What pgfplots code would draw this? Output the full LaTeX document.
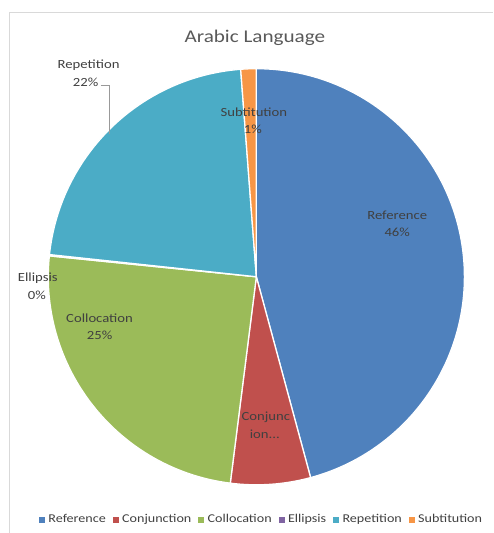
\documentclass[border=0pt]{standalone}
\usepackage{pgfplots}
\pgfplotsset{compat=1.18}
\usepackage{pgfplotstable}
\usepackage{fontspec}
\setmainfont{Carlito}[FakeStretch=1.18]
\definecolor{cRef}{HTML}{4F81BD}
\definecolor{cCon}{HTML}{C0504D}
\definecolor{cCol}{HTML}{9BBB59}
\definecolor{cEll}{HTML}{8064A2}
\definecolor{cRep}{HTML}{4BACC6}
\definecolor{cSub}{HTML}{F79646}
\definecolor{textgray}{HTML}{404040}
\definecolor{titlegray}{HTML}{595959}
\definecolor{framegray}{HTML}{D9D9D9}
\pgfplotstableread{
name value col
Reference 45.8 cRef
Conjunction 6.2 cCon
Collocation 24.6 cCol
Ellipsis 0.1 cEll
Repetition 22.1 cRep
Subtitution 1.2 cSub
}\piedata
\pgfplotsset{
  sqlegend/.style={legend image code/.code={\fill[##1] (0pt,-2.5pt) rectangle (5pt,2.5pt);}}
}
\begin{document}
\begin{tikzpicture}
\begin{axis}[width=493pt,height=533pt,scale only axis,
  xmin=0,xmax=493,ymin=0,ymax=533,hide axis,clip=false,
  sqlegend,
  legend columns=6,
  legend style={at={(0.533,0.021)},anchor=center,draw=none,fill=none,
    font=\fontsize{12}{13}\selectfont, text=textgray,
    /tikz/every odd column/.append style={column sep=2pt},
    /tikz/every even column/.append style={column sep=5pt}},
  legend cell align=left]
\addlegendimage{cRef}
\addlegendimage{cCon}
\addlegendimage{cCol}
\addlegendimage{cEll}
\addlegendimage{cRep}
\addlegendimage{cSub}
\legend{Reference,Conjunction,Collocation,Ellipsis,Repetition,Subtitution}
% full canvas
\path (axis cs:0,0) rectangle (axis cs:493,533);
% frame
\draw[framegray,line width=0.8pt] (axis cs:9,-2) -- (axis cs:9,521) -- (axis cs:495,521);
% pie slices
\def\cx{257.5}\def\cy{255}\def\R{209}
\gdef\startang{90}
\pgfplotsforeachungrouped \i in {0,...,5}{%
  \pgfplotstablegetelem{\i}{value}\of\piedata \let\sval=\pgfplotsretval
  \pgfplotstablegetelem{\i}{col}\of\piedata \let\scol=\pgfplotsretval
  \pgfmathsetmacro\endang{\startang-3.6*\sval}%
  \pgfmathsetmacro\sx{\cx+\R*cos(\startang)}%
  \pgfmathsetmacro\sy{\cy+\R*sin(\startang)}%
  \edef\temp{\noexpand\fill[\scol,draw=white,line width=1.3pt,line join=round]
    (axis cs:\cx,\cy) -- (axis cs:\sx,\sy)
    arc[start angle=\startang,end angle=\endang,radius=\R pt] -- cycle;}%
  \temp
  \global\let\startang=\endang
}
% title
\node[titlegray,font=\fontsize{18}{20}\selectfont] at (axis cs:256,495) {Arabic Language};
% labels
\begin{scope}[every node/.style={textgray,font=\fontsize{12.5}{13}\selectfont,align=center}]
\node at (axis cs:399,317) {Reference};
\node at (axis cs:399,300) {46\%};
\node at (axis cs:255,420) {Subtitution};
\node at (axis cs:254,403) {1\%};
\node at (axis cs:267,114) {Conjunc};
\node at (axis cs:266,97) {ion...};
\node at (axis cs:100,213) {Collocation};
\node at (axis cs:100,196) {25\%};
\node at (axis cs:89,467) {Repetition};
\node at (axis cs:86,450) {22\%};
\node at (axis cs:38,254) {Ellipsis};
\node at (axis cs:37,236) {0\%};
\end{scope}
\draw[gray!80,line width=0.6pt] (axis cs:101,447) -- (axis cs:110,447) -- (axis cs:110,398);
\end{axis}
\end{tikzpicture}
\end{document}
